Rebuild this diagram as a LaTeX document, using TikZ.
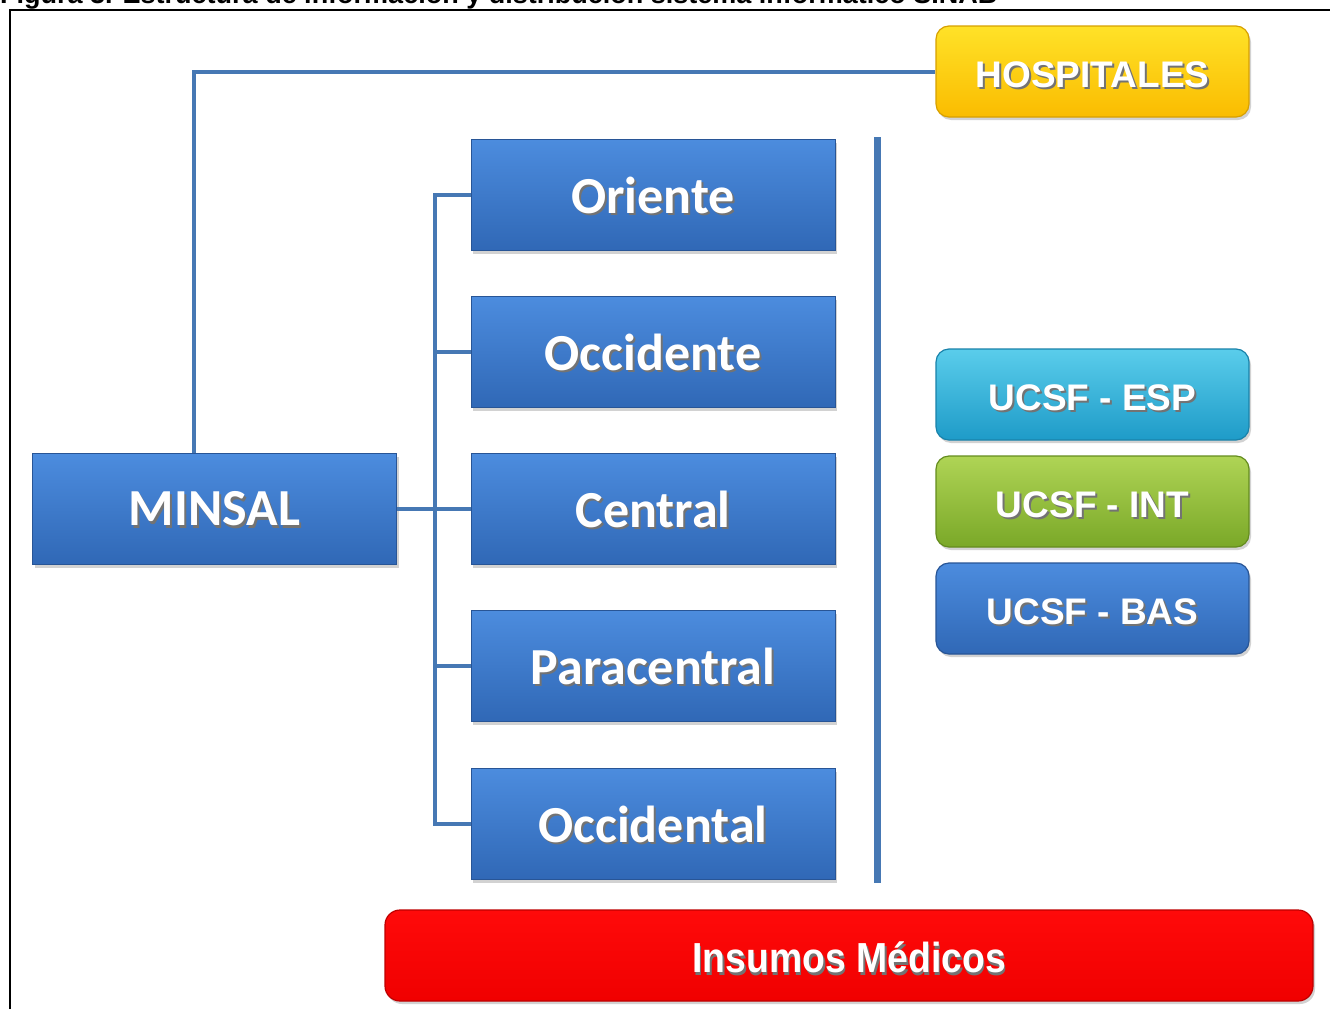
\documentclass[tikz,border=0pt]{standalone}
\usepackage{fontspec}
\setmainfont{Liberation Sans}
\newfontfamily\calfont{Carlito}
\usetikzlibrary{shadows}
\definecolor{linecol}{RGB}{70,120,180}
\definecolor{bluetop}{RGB}{76,140,222}
\definecolor{bluebot}{RGB}{48,104,182}
\definecolor{blueedge}{RGB}{40,85,150}
\definecolor{yeltop}{RGB}{255,226,40}
\definecolor{yelbot}{RGB}{250,188,0}
\definecolor{yeledge}{RGB}{215,160,0}
\definecolor{cyatop}{RGB}{90,205,235}
\definecolor{cyabot}{RGB}{30,155,200}
\definecolor{cyaedge}{RGB}{25,130,170}
\definecolor{gretop}{RGB}{175,212,85}
\definecolor{grebot}{RGB}{122,168,40}
\definecolor{greedge}{RGB}{100,140,30}
\definecolor{redtop}{RGB}{255,10,10}
\definecolor{redbot}{RGB}{240,0,0}
\definecolor{rededge}{RGB}{190,0,0}
\newcommand\wtxt[1]{\makebox[0pt][l]{\hspace{2pt}\raisebox{-2.5pt}[0pt][0pt]{\color{black!55}#1}}{\color{white}#1}}
\tikzset{
  conn/.style={draw=linecol, line width=4pt},
  bluebox/.style={rectangle, draw=blueedge, line width=1pt, top color=bluetop, bottom color=bluebot,
    minimum width=364pt, minimum height=111pt, inner sep=0pt,
    drop shadow={opacity=0.35, shadow xshift=2pt, shadow yshift=-3pt},
    font=\calfont\bfseries\fontsize{52}{52}\selectfont},
  roundbox/.style={rectangle, rounded corners=13pt, line width=1.2pt,
    minimum width=313pt, minimum height=91pt, inner sep=0pt,
    text height=31pt, text depth=0pt,
    drop shadow={opacity=0.35, shadow xshift=2pt, shadow yshift=-3pt},
    font=\bfseries\fontsize{37}{37}\selectfont},
}
\begin{document}
\begin{tikzpicture}[x=1pt,y=-1pt]
\useasboundingbox (0,0) rectangle (1338,1009);
\fill[white] (0,0) rectangle (1338,1009);
% caption (cut at top, as in the reference)
\node[anchor=base west, inner sep=0pt, font=\bfseries\fontsize{27}{27}\selectfont] (cap) at (0,4)
  {Figura 3. Estructura de información y distribución sistema informático SINAB};
% frame
\draw[line width=1.3pt] (10,1009) -- (10,10) -- (1330,10);
% boxes
\node[bluebox] (minsal) at (214.5,509) {\wtxt{MINSAL}};
\node[bluebox] (oriente) at (653,195) {\wtxt{Oriente}};
\node[bluebox] (occidente) at (653,352) {\wtxt{Occidente}};
\node[bluebox] (central) at (653,509) {\wtxt{Central}};
\node[bluebox] (paracentral) at (653,666) {\wtxt{Paracentral}};
\node[bluebox] (occidental) at (653,824) {\wtxt{Occidental}};
\node[roundbox, draw=yeledge, top color=yeltop, bottom color=yelbot] (hosp) at (1092.5,71.5) {\wtxt{HOSPITALES}};
\node[roundbox, draw=cyaedge, top color=cyatop, bottom color=cyabot] (esp) at (1092.5,394.5) {\wtxt{UCSF - ESP}};
\node[roundbox, draw=greedge, top color=gretop, bottom color=grebot] (int) at (1092.5,501.5) {\wtxt{UCSF - INT}};
\node[roundbox, draw=blueedge, top color=bluetop, bottom color=bluebot] (bas) at (1092.5,608.5) {\wtxt{UCSF - BAS}};
\node[roundbox, rounded corners=15pt, draw=rededge, top color=redtop, bottom color=redbot,
  minimum width=928pt, text height=34pt, font=\bfseries\fontsize{42}{42}\selectfont] (insumos) at (849,955.5)
  {\scalebox{0.89}[1]{\wtxt{Insumos Médicos}}};
% connectors
\coordinate (tr) at (435,0);
\coordinate (hx) at (194,0);
\draw[conn] (minsal.east) -- (central.west);
\draw[conn] (oriente.west) -- (oriente.west -| tr) |- (occidental.west);
\draw[conn] (occidente.west) -- (occidente.west -| tr);
\draw[conn] (paracentral.west) -- (paracentral.west -| tr);
\draw[conn] (minsal.north -| hx) |- (hosp.west);
% divider
\coordinate (d1) at (877,137);
\coordinate (d2) at (877,883);
\draw[linecol, line width=7pt] (d1) -- (d2);
\end{tikzpicture}
\end{document}
